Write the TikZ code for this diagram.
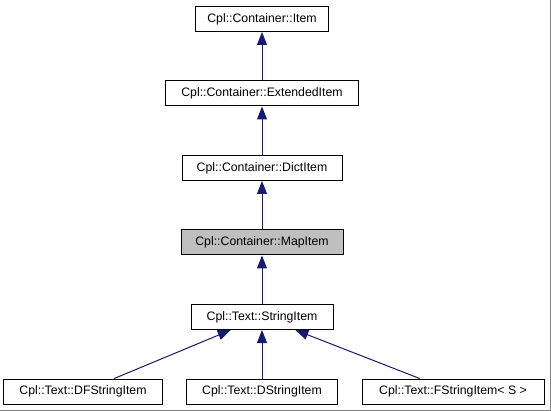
\documentclass[tikz,border=0pt]{standalone}
\usepackage{fontspec}
\setmainfont{Liberation Sans}
\usetikzlibrary{positioning}
\usetikzlibrary{arrows.meta}

\definecolor{edgeblue}{HTML}{191970}
\definecolor{basegray}{HTML}{BFBFBF}

\begin{document}
\begin{tikzpicture}[x=1pt,y=-1pt,>={Triangle[width=10pt,length=13pt]},shorten >=0pt,node distance=74.5pt,
                line width=1pt,edgeblue,class node/.style={rectangle,draw=black,text=black,inner sep=0pt,
                minimum height=25pt,font=\fontsize{12.3}{14}\selectfont}]

  \useasboundingbox (0,0) rectangle (551,411);

  \node[class node, minimum width=133pt] (1) at (262,19) {Cpl::Container::Item};
  \node[class node, minimum width=193pt] (2) [below of=1] {Cpl::Container::ExtendedItem};
  \node[class node, minimum width=160pt] (3) [below of=2] {Cpl::Container::DictItem};
  \node[class node, minimum width=162pt, fill=basegray] (4) [below of=3] {Cpl::Container::MapItem};
  \node[class node, minimum width=142pt] (5) [below of=4] {Cpl::Text::StringItem};
  \node[class node, minimum width=151pt] (7) [below of=5] {Cpl::Text::DStringItem};
  \node[class node, minimum width=159pt] (6) [left of=7, node distance=179pt] {Cpl::Text::DFStringItem};
  \node[class node, minimum width=182pt] (8) [right of=7, node distance=191pt] {Cpl::Text::FStringItem< S >};

  \path[->]
    (2) edge (1)
    (3) edge (2)
    (4) edge (3)
    (5) edge (4)
    (6) edge (5)
    (7) edge (5)
    (8) edge (5);

  % frame shadow
  \draw[gray] (0,410.5) -- (550.5,410.5) -- (550.5,0);

\end{tikzpicture}
\end{document}
